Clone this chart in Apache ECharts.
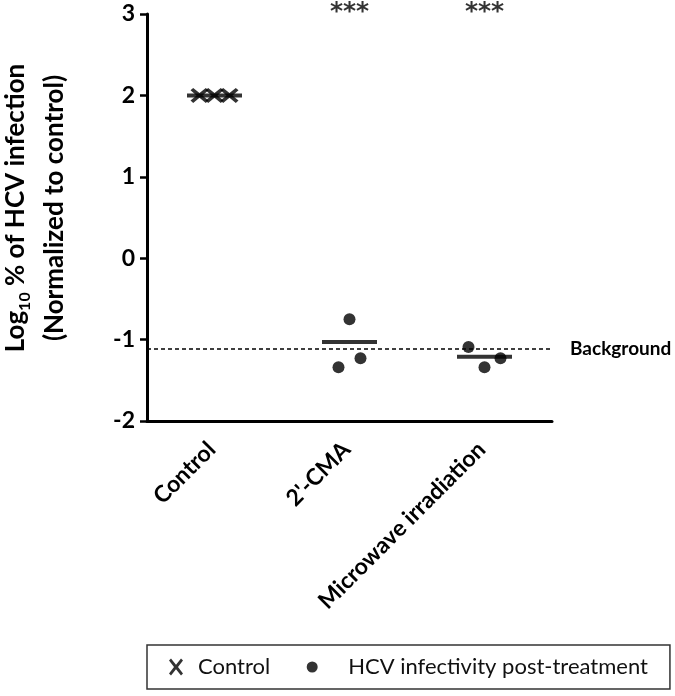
<!DOCTYPE html>
<html><head><meta charset="utf-8">
<script src="https://cdn.jsdelivr.net/npm/echarts@6/dist/echarts.min.js"></script>
<style>html,body{margin:0;padding:0;background:#fff}#c{width:675px;height:696px}</style>
</head><body><div id="c"></div>
<script>
// ---- data ----
const categories = ['Control', "2'-CMA", 'Microwave irradiation'];
const controlValues = [2, 2, 2];
const cmaValues = [-0.75, -1.34, -1.23];
const microwaveValues = [-1.09, -1.34, -1.23];
const meanValues = [2, -1.03, -1.21];
const significance = ['', '***', '***'];
const backgroundLevel = -1.11;
const yMin = -2, yMax = 3, yStep = 1;

// ---- styling (horizontal jitter of overlapping points, px) ----
const controlJitter = [-15, 0, 15];
const cmaJitter = [0, -11, 11];
const microwaveJitter = [-16, 0, 16];

const FONT = 'Lato';
const X_PATH = 'path://M0,2.2 L2.4,0 L8,4.8 L13.6,0 L16,2.2 L10.6,7 L16,11.8 L13.6,14 L8,9.2 L2.4,14 L0,11.8 L5.4,7 Z';
const X_ICON = 'path://M0,2 L2,0 L7,6.2 L12,0 L14,2 L9,8.5 L14,15 L12,17 L7,10.8 L2,17 L0,15 L5,8.5 Z';
const DOT_ICON = 'path://M0,0 L0,0 M14,17 L14,17 M12.5,8.5 A5.5,5.5 0 1,1 1.5,8.5 A5.5,5.5 0 1,1 12.5,8.5 Z';

const pts = (vals, cat, jit) => vals.map((v, i) => ({ value: [categories[cat], v], symbolOffset: [jit[i], 0] }));

const chart = echarts.init(document.getElementById('c'), null, { renderer: 'canvas' });
chart.setOption({
  animation: false,
  backgroundColor: '#fff',
  textStyle: { fontFamily: FONT },
  grid: { left: 147, top: 14, width: 405, height: 407, containLabel: false, outerBoundsMode: 'none' },
  xAxis: {
    type: 'category',
    data: categories,
    boundaryGap: true,
    axisLine: { onZero: false, lineStyle: { color: '#000', width: 3 } },
    axisTick: { alignWithLabel: true, length: 7, lineStyle: { color: '#000', width: 2.5 } },
    axisLabel: { interval: 0, rotate: 45, margin: 22, padding: [0, 4, 0, 0], color: '#000', fontFamily: FONT, fontWeight: 'bold', fontSize: 23 },
    splitLine: { show: false }
  },
  yAxis: {
    type: 'value',
    min: yMin, max: yMax, interval: yStep,
    axisLine: { show: true, lineStyle: { color: '#000', width: 3 } },
    axisTick: { show: true, length: 7, lineStyle: { color: '#000', width: 2.5 } },
    axisLabel: { margin: 12, color: '#000', fontFamily: FONT, fontWeight: 'bold', fontSize: 23 },
    splitLine: { show: false },
    name: '   Log{sub|10} % of HCV infection\n   (Normalized to control)',
    nameLocation: 'middle',
    nameRotate: 90,
    nameGap: 73,
    nameTextStyle: {
      color: '#000', fontFamily: FONT, fontWeight: 'bold', fontSize: 26, lineHeight: 39,
      rich: { sub: { fontFamily: FONT, fontWeight: 'bold', fontSize: 16, color: '#000', verticalAlign: 'middle', padding: [18, 0, 0, 0] } }
    }
  },
  legend: {
    left: 147, top: 645,
    orient: 'horizontal',
    padding: [11, 22, 11, 22],
    itemWidth: 14, itemHeight: 17, itemGap: 35,
    borderColor: '#333', borderWidth: 1.5,
    textStyle: { fontFamily: FONT, fontSize: 22, color: '#111' },
    data: [
      { name: 'Control', icon: X_ICON, itemStyle: { color: '#000', borderWidth: 0 }, textStyle: { padding: [0, 0, 0, 10] } },
      { name: 'HCV infectivity post-treatment', icon: DOT_ICON, itemStyle: { color: '#000', borderWidth: 0 }, textStyle: { padding: [0, 0, 0, 24] } }
    ]
  },
  series: [
    {
      name: 'Control', type: 'scatter',
      symbol: X_PATH, symbolSize: [18, 15], symbolKeepAspect: false,
      itemStyle: { color: '#000' },
      data: pts(controlValues, 0, controlJitter), z: 3
    },
    {
      name: 'HCV infectivity post-treatment', type: 'scatter',
      symbol: 'circle', symbolSize: 12,
      itemStyle: { color: '#000' },
      data: pts(cmaValues, 1, cmaJitter).concat(pts(microwaveValues, 2, microwaveJitter)), z: 3
    },
    {
      name: 'mean', type: 'scatter',
      symbol: 'rect', symbolSize: [55, 4],
      itemStyle: { color: '#000' },
      data: meanValues.map((v, i) => [categories[i], v]), z: 2,
      markLine: {
        silent: true, symbol: 'none',
        lineStyle: { color: '#000', width: 1.5, type: [4, 3] },
        label: { show: true, position: 'end', distance: 18, formatter: 'Background', color: '#000', fontFamily: FONT, fontWeight: 'bold', fontSize: 19 },
        data: [{ yAxis: backgroundLevel }]
      }
    },
    {
      name: 'sig', type: 'scatter',
      symbolSize: 0, clip: false,
      itemStyle: { color: 'transparent' },
      label: { show: true, position: 'inside', offset: [0, -2], formatter: p => p.data.label, color: '#000', fontFamily: 'DejaVu Sans', fontWeight: 'bold', fontSize: 25 },
      data: significance.map((s, i) => ({ value: [categories[i], yMax], label: s })).filter(d => d.label !== '')
    }
  ]
});
</script></body></html>
